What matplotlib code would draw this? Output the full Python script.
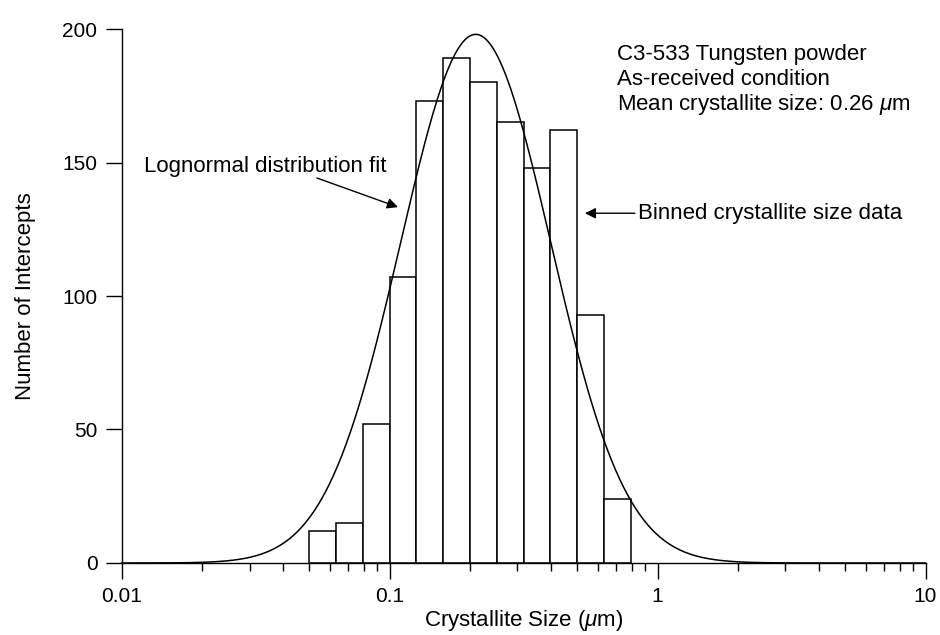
import numpy as np
import matplotlib.pyplot as plt
from matplotlib.ticker import FixedLocator, FixedFormatter, NullFormatter

plt.rcParams["font.family"] = ["Liberation Sans", "DejaVu Sans"]
plt.rcParams["mathtext.fontset"] = "custom"
plt.rcParams["mathtext.it"] = "Liberation Sans:italic"
plt.rcParams["mathtext.rm"] = "Liberation Sans"

# Histogram bins (log10 of the bin edges, 0.1 decade wide) and counts
bin_edges_log10 = [-1.3, -1.2, -1.1, -1.0, -0.9, -0.8, -0.7,
                   -0.6, -0.5, -0.4, -0.3, -0.2, -0.1]
counts = [12, 15, 52, 107, 173, 189, 180, 165, 148, 162, 93, 24]

# Lognormal fit: peak height, mode and width (decades)
fit_peak = 198.0
fit_mode = 0.2095
fit_sigma_log10 = 0.28

x_major = [0.01, 0.1, 1, 10]
x_major_labels = ["0.01", "0.1", "1", "10"]
y_ticks = [0, 50, 100, 150, 200]

fig = plt.figure(figsize=(9.4, 6.35), dpi=100)
ax = fig.add_axes([0.1295, 0.1134, 0.8551, 0.8409])

edges = 10.0 ** np.array(bin_edges_log10)
ax.bar(edges[:-1], counts, width=np.diff(edges), align="edge",
       facecolor="white", edgecolor="black", lw=1.1, zorder=2)

xs = np.logspace(-2, 1, 600)
fit = fit_peak * np.exp(-(np.log10(xs) - np.log10(fit_mode)) ** 2
                        / (2 * fit_sigma_log10 ** 2))
ax.plot(xs, fit, color="black", lw=1.1, zorder=3, clip_on=False)

ax.set_xscale("log")
ax.set_xlim(0.01, 10)
ax.set_ylim(0, 200)
ax.xaxis.set_major_locator(FixedLocator(x_major))
ax.xaxis.set_major_formatter(FixedFormatter(x_major_labels))
minors = [m * d for d in (0.01, 0.1, 1) for m in range(2, 10)]
ax.xaxis.set_minor_locator(FixedLocator(minors))
ax.xaxis.set_minor_formatter(NullFormatter())
ax.set_yticks(y_ticks)

for side in ("top", "right"):
    ax.spines[side].set_visible(False)
for side in ("left", "bottom"):
    ax.spines[side].set_linewidth(1.0)
ax.tick_params(which="major", direction="out", length=11.5, width=1.0,
               labelsize=15, pad=6)
ax.tick_params(which="minor", direction="out", length=6, width=1.0)

ax.set_xlabel(r"Crystallite Size ($\mu$m)", fontsize=16, labelpad=1)
ax.set_ylabel("Number of Intercepts", fontsize=16, labelpad=19)

ax.text(0.705, 188.4, "C3-533 Tungsten powder", fontsize=16, va="baseline")
ax.text(0.705, 179.0, "As-received condition", fontsize=16, va="baseline")
ax.text(0.705, 169.7, r"Mean crystallite size: 0.26 $\mu$m", fontsize=16,
        va="baseline")

ax.annotate("", xy=(0.1074, 133.3), xytext=(0.0535, 144.2),
            arrowprops=dict(arrowstyle="-|>", color="black", lw=1.0,
                            mutation_scale=16, shrinkA=0, shrinkB=0))
ax.text(0.01211, 146.4, "Lognormal distribution fit", fontsize=16,
        va="baseline")

ax.annotate("", xy=(0.5355, 131.0), xytext=(0.823, 131.0),
            arrowprops=dict(arrowstyle="-|>", color="black", lw=1.0,
                            mutation_scale=16, shrinkA=0, shrinkB=0))
ax.text(0.845, 131.0, "Binned crystallite size data", fontsize=16,
        va="center")

fig.savefig("out.png", dpi=100)
